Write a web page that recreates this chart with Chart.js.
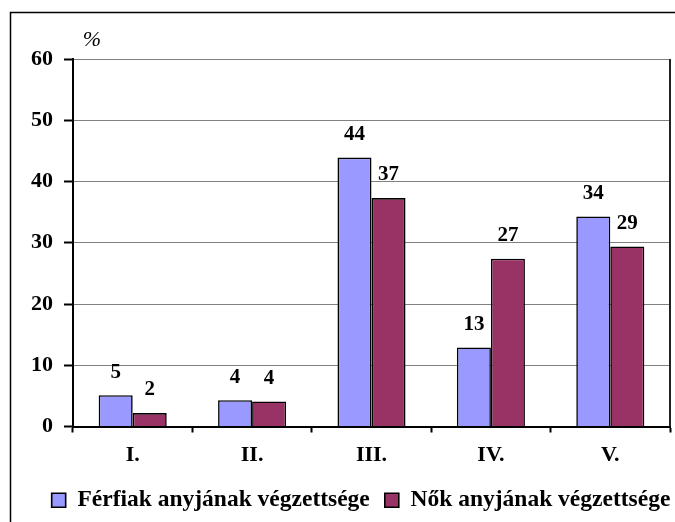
<!DOCTYPE html>
<html>
<head>
<meta charset="utf-8">
<script src="https://cdn.jsdelivr.net/npm/chart.js@4/dist/chart.umd.min.js"></script>
<style>
  html, body { margin: 0; padding: 0; background: #fff; }
  #wrap { position: relative; width: 675px; height: 522px; }
</style>
</head>
<body>
<div id="wrap"><canvas id="c" width="675" height="522"></canvas></div>
<script>
const categories = ['I.', 'II.', 'III.', 'IV.', 'V.'];
const seriesNames = ['Férfiak anyjának végzettsége', 'Nők anyjának végzettsége'];
const ferfiakValues = [5.1, 4.3, 43.9, 12.9, 34.3];
const nokValues = [2.2, 4.1, 37.3, 27.4, 29.4];
const yAxisUnit = '%';
const yMin = 0, yMax = 60, yStep = 10;

const SERIF = '"Liberation Serif", "Times New Roman", serif';

const framePlugin = {
  id: 'frame',
  beforeDraw(chart) {
    const ctx = chart.ctx;
    ctx.save();
    ctx.fillStyle = '#fff';
    ctx.fillRect(0, 0, chart.width, chart.height);
    ctx.strokeStyle = '#000';
    ctx.lineWidth = 1.5;
    ctx.strokeRect(10.5, 12.5, chart.width + 20, chart.height + 20);
    ctx.restore();
  },
  afterLayout(chart) {
    if (chart.legend) { chart.legend.left += 21; chart.legend.right += 21; }
  },
  afterDatasetsDraw(chart) {
    const ctx = chart.ctx;
    const a = chart.chartArea;
    ctx.save();
    ctx.strokeStyle = '#222';
    ctx.lineWidth = 2;
    ctx.beginPath();
    ctx.moveTo(a.right, a.top);
    ctx.lineTo(a.right, a.bottom);
    ctx.stroke();
    ctx.fillStyle = '#000';
    ctx.font = 'bold 21px ' + SERIF;
    ctx.textAlign = 'center';
    ctx.textBaseline = 'middle';
    chart.data.datasets.forEach((ds, di) => {
      const meta = chart.getDatasetMeta(di);
      meta.data.forEach((el, i) => {
        ctx.fillText(String(Math.round(ds.data[i])), el.x, el.y - 23);
      });
    });
    ctx.font = 'italic 22px ' + SERIF;
    ctx.fillText(yAxisUnit, a.left + 19, a.top - 19);
    ctx.restore();
  }
};

new Chart(document.getElementById('c'), {
  type: 'bar',
  data: {
    labels: categories,
    datasets: [
      { label: seriesNames[0], data: ferfiakValues, backgroundColor: '#9999FF', borderColor: '#000', borderWidth: 1.6 },
      { label: seriesNames[1], data: nokValues, backgroundColor: '#993366', borderColor: '#000', borderWidth: 1.6 }
    ]
  },
  options: {
    responsive: false,
    animation: false,
    layout: { padding: { left: 10, right: 5, top: 59, bottom: 0 } },
    datasets: { bar: { categoryPercentage: 0.57, barPercentage: 1.0 } },
    plugins: {
      legend: {
        position: 'bottom',
        align: 'center',
        labels: {
          color: '#000',
          font: { family: SERIF, size: 23.5, weight: 'bold' },
          boxWidth: 14, boxHeight: 14, padding: 15
        }
      },
      tooltip: { enabled: false }
    },
    scales: {
      x: {
        offset: true,
        grid: { display: true, offset: true, drawOnChartArea: false, drawTicks: true, tickLength: 6, tickColor: '#000', tickWidth: 2 },
        border: { display: true, color: '#000', width: 2 },
        ticks: { color: '#000', font: { family: SERIF, size: 22, weight: 'bold' }, padding: 10, maxRotation: 0 },
        afterFit(s) { s.height = 47; }
      },
      y: {
        min: yMin, max: yMax,
        grid: { color: '#808080', lineWidth: 1, drawTicks: true, tickLength: 9, tickColor: '#000', tickWidth: 2 },
        border: { display: true, color: '#000', width: 2 },
        ticks: { stepSize: yStep, color: '#000', font: { family: SERIF, size: 22, weight: 'bold' }, padding: 11 },
        afterFit(s) { s.width = 63; }
      }
    }
  },
  plugins: [framePlugin]
});
</script>
</body>
</html>
